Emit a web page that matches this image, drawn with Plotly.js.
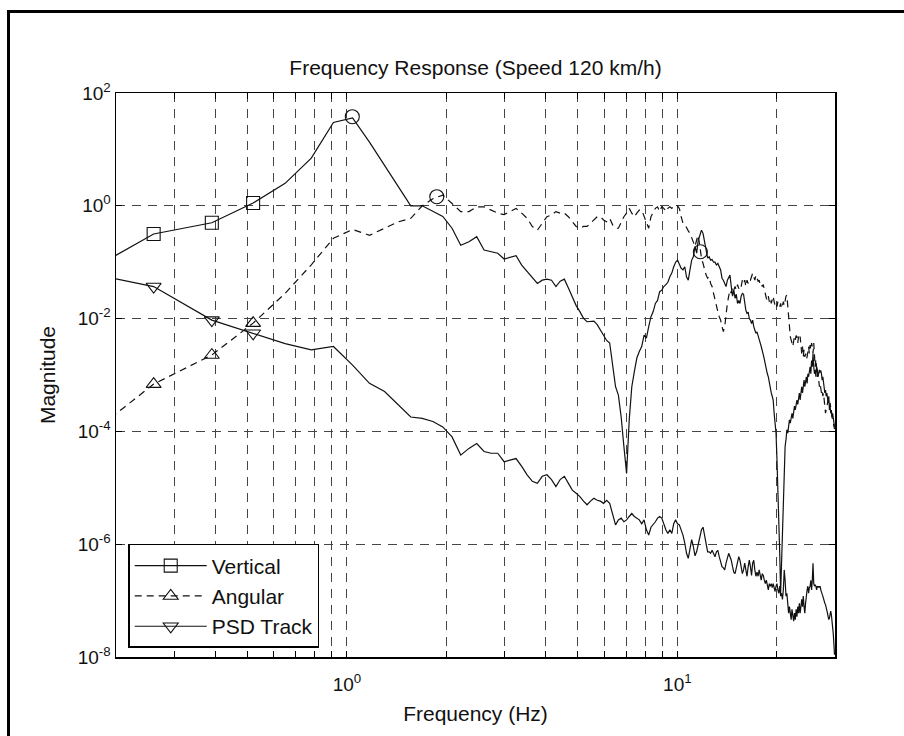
<!DOCTYPE html>
<html>
<head>
<meta charset="utf-8">
<script src="https://cdn.plot.ly/plotly-3.0.1.min.js"></script>
<style>
  html, body { margin: 0; padding: 0; background: #fff; overflow: hidden; }
  #chart { width: 904px; height: 736px; }
  #frame {
    position: absolute; left: 7px; top: 10px; width: 1000px; height: 1000px;
    border-left: 3px solid #000; border-top: 3px solid #000;
    pointer-events: none; z-index: 5;
  }
</style>
</head>
<body>
<div id="frame"></div>
<div id="chart"></div>
<script>
// Frequency grid (Hz)
const freq = [
  0.13,0.26,0.39,0.52,0.65,0.78,0.91,1.04,1.17,1.30,
  1.43,1.56,1.69,1.82,1.95,2.08,2.21,2.34,2.47,2.60,
  2.73,2.86,2.99,3.12,3.25,3.38,3.51,3.64,3.77,3.90,
  4.03,4.16,4.29,4.42,4.55,4.68,4.81,4.94,5.07,5.20,
  5.33,5.46,5.59,5.72,5.85,5.98,6.11,6.24,6.37,6.50,
  6.63,6.76,6.89,7.02,7.15,7.28,7.41,7.54,7.67,7.80,
  7.93,8.06,8.19,8.32,8.45,8.58,8.71,8.84,8.97,9.10,
  9.23,9.36,9.49,9.62,9.75,9.88,10.01,10.14,10.27,10.40,
  10.53,10.66,10.79,10.92,11.05,11.18,11.31,11.44,11.57,11.70,
  11.83,11.96,12.09,12.22,12.35,12.48,12.61,12.74,12.87,13.00,
  13.13,13.26,13.39,13.52,13.65,13.78,13.91,14.04,14.17,14.30,
  14.43,14.56,14.69,14.82,14.95,15.08,15.21,15.34,15.47,15.60,
  15.73,15.86,15.99,16.12,16.25,16.38,16.51,16.64,16.77,16.90,
  17.03,17.16,17.29,17.42,17.55,17.68,17.81,17.94,18.07,18.20,
  18.33,18.46,18.59,18.72,18.85,18.98,19.11,19.24,19.37,19.50,
  19.63,19.76,19.89,20.02,20.15,20.28,20.41,20.54,20.67,20.80,
  20.93,21.06,21.19,21.32,21.45,21.58,21.71,21.84,21.97,22.10,
  22.23,22.36,22.49,22.62,22.75,22.88,23.01,23.14,23.27,23.40,
  23.53,23.66,23.79,23.92,24.05,24.18,24.31,24.44,24.57,24.70,
  24.83,24.96,25.09,25.22,25.35,25.48,25.61,25.74,25.87,26.00,
  26.13,26.26,26.39,26.52,26.65,26.78,26.91,27.04,27.17,27.30,
  27.43,27.56,27.69,27.82,27.95,28.08,28.21,28.34,28.47,28.60,
  28.73,28.86,28.99,29.12,29.25,29.38,29.51,29.64,29.77,29.90
];

// Vertical response magnitude
const vertical = [
  0.032,0.316,0.50,1.12,2.5,7.0,30,36,13.5,5.3,
  2.18,1.0,1.0,0.81,0.65,0.40,0.20,0.23,0.283,0.164,
  0.152,0.144,0.114,0.12,0.13,0.089,0.068,0.052,0.042,0.048,
  0.05,0.048,0.037,0.046,0.050,0.035,0.025,0.017,0.0133,0.0101,
  0.0088,0.009,0.009,0.0078,0.0063,0.0051,0.0041,0.0037,0.0014,6.2e-4,
  4.4e-4,1.8e-4,5.4e-5,1.8e-5,1.6e-4,6.2e-4,1.15e-3,2.0e-3,2.6e-3,3.2e-3,
  0.0051,0.0045,0.0072,0.0108,0.0133,0.0186,0.021,0.030,0.032,0.037,
  0.040,0.044,0.055,0.064,0.083,0.10,0.109,0.095,0.078,0.073,
  0.083,0.055,0.048,0.073,0.109,0.125,0.19,0.145,0.25,0.30,
  0.37,0.325,0.216,0.145,0.118,0.125,0.109,0.112,0.10,0.10,
  0.089,0.095,0.082,0.073,0.052,0.048,0.042,0.037,0.048,0.055,
  0.059,0.037,0.025,0.032,0.023,0.027,0.0186,0.021,0.0186,0.025,
  0.028,0.027,0.017,0.014,0.0124,0.013,0.010,0.0094,0.0082,0.0094,
  0.0072,0.0063,0.0055,0.0058,0.0048,0.0042,0.0037,0.0032,0.0028,0.0023,
  0.0019,0.0015,0.0013,0.00105,9.3e-4,7.1e-4,6.2e-4,4.8e-4,4.2e-4,3.6e-4,
  2.1e-4,1.2e-4,9.3e-5,3.2e-5,1.05e-5,2.7e-6,6.9e-7,1.35e-7,5.2e-7,2.7e-6,
  1.05e-5,2.7e-5,5.4e-5,7.1e-5,1.07e-4,9.3e-5,1.2e-4,1.6e-4,1.4e-4,1.8e-4,
  2.1e-4,1.7e-4,2.4e-4,2.8e-4,2.4e-4,3.2e-4,3.6e-4,3.0e-4,4.2e-4,4.8e-4,
  3.6e-4,5.4e-4,6.2e-4,4.8e-4,7.1e-4,8.1e-4,6.2e-4,8.1e-4,9.3e-4,7.1e-4,
  1.05e-3,9.3e-4,1.23e-3,1.4e-3,1.05e-3,1.8e-3,1.4e-3,2.4e-3,1.4e-3,1.05e-3,
  1.23e-3,9.3e-4,1.4e-3,1.23e-3,9.3e-4,1.05e-3,1.23e-3,1.1e-3,1.2e-3,1.05e-3,
  8.1e-4,9.3e-4,7.1e-4,6.2e-4,4.8e-4,5.4e-4,4.2e-4,4.8e-4,3.6e-4,3.2e-4,
  4.2e-4,2.4e-4,2.8e-4,2.1e-4,2.4e-4,1.8e-4,2.1e-4,1.6e-4,1.4e-4,1.2e-4
];

// Angular response magnitude
const angular = [
  2.8e-5,6.9e-4,2.26e-3,8.3e-3,0.028,0.09,0.265,0.38,0.30,0.40,
  0.52,0.60,1.0,1.33,1.55,1.1,0.79,0.79,0.96,0.96,
  0.83,0.74,0.70,0.79,0.90,0.74,0.6,0.43,0.37,0.49,
  0.64,0.69,0.79,0.74,0.74,0.64,0.52,0.43,0.40,0.43,
  0.43,0.49,0.56,0.64,0.64,0.56,0.52,0.6,0.46,0.40,
  0.40,0.52,0.64,0.74,0.90,0.74,0.64,0.74,0.84,0.84,
  0.64,0.49,0.40,0.64,0.74,0.90,0.96,0.79,0.96,0.90,
  0.79,0.90,0.96,0.90,1.0,1.03,1.0,0.90,0.64,0.49,
  0.47,0.40,0.36,0.325,0.27,0.216,0.19,0.25,0.30,0.19,
  0.118,0.095,0.073,0.059,0.052,0.055,0.042,0.037,0.028,0.021,
  0.0163,0.0133,0.0108,0.0094,0.0072,0.0059,0.0072,0.0124,0.0186,0.025,
  0.032,0.028,0.037,0.032,0.037,0.032,0.040,0.034,0.040,0.037,
  0.048,0.042,0.048,0.037,0.048,0.042,0.050,0.048,0.059,0.064,
  0.055,0.048,0.059,0.050,0.046,0.048,0.040,0.042,0.037,0.040,
  0.032,0.028,0.023,0.021,0.025,0.020,0.023,0.0186,0.021,0.025,
  0.020,0.017,0.0186,0.0163,0.020,0.017,0.0163,0.0186,0.0151,0.017,
  0.020,0.017,0.021,0.025,0.026,0.0163,0.0094,0.0055,0.0048,0.0042,
  0.0037,0.0032,0.0040,0.0048,0.0042,0.0050,0.0048,0.0037,0.0048,0.0042,
  0.0048,0.0032,0.0024,0.0032,0.0021,0.0028,0.0021,0.0024,0.0019,0.0021,
  0.0028,0.0032,0.0024,0.0034,0.0028,0.0037,0.0032,0.0024,0.0037,0.0021,
  0.0014,0.0019,0.00125,9.3e-4,1.05e-3,8.1e-4,6.2e-4,7.1e-4,5.4e-4,4.8e-4,
  5.4e-4,4.2e-4,4.8e-4,3.2e-4,2.4e-4,2.1e-4,2.4e-4,2.8e-4,3.2e-4,3.6e-4,
  3.2e-4,2.8e-4,3.2e-4,2.4e-4,2.1e-4,1.8e-4,1.6e-4,1.4e-4,1.2e-4,1.1e-4
];

// Track irregularity PSD
const psdTrack = [
  0.084,0.037,0.0094,0.0055,0.0036,0.0028,0.0032,0.0015,7.1e-4,5.1e-4,
  2.95e-4,1.8e-4,1.7e-4,1.5e-4,1.2e-4,8e-5,3.8e-5,5e-5,6.1e-5,4.4e-5,
  4.1e-5,4.1e-5,2.9e-5,3.1e-5,3.3e-5,2.4e-5,1.7e-5,1.3e-5,1.2e-5,1.6e-5,
  1.7e-5,1.4e-5,1.05e-5,1.4e-5,1.6e-5,1.2e-5,9.1e-6,8e-6,7e-6,5.8e-6,
  5e-6,5.8e-6,6.5e-6,6e-6,5.8e-6,5.3e-6,6e-6,5.3e-6,3.5e-6,2.2e-6,
  2.7e-6,2.9e-6,2.5e-6,2.7e-6,3.1e-6,3.5e-6,3.1e-6,2.9e-6,2.7e-6,2.3e-6,
  2.7e-6,1.8e-6,1.45e-6,2e-6,2.2e-6,2.5e-6,2.9e-6,3.1e-6,2.9e-6,2.2e-6,
  1.8e-6,1.55e-6,1.8e-6,1.55e-6,2.3e-6,2.7e-6,2.3e-6,2.2e-6,1.8e-6,1.45e-6,
  1.05e-6,6.9e-7,5.6e-7,9.1e-7,1.2e-6,9.1e-7,6.2e-7,7.4e-7,1.05e-6,1.35e-6,
  1.8e-6,2e-6,1.35e-6,9.1e-7,7.3e-7,7.3e-7,6.9e-7,7.8e-7,6.9e-7,6e-7,
  7.3e-7,7.8e-7,6e-7,4.6e-7,4e-7,3.8e-7,3.5e-7,4.6e-7,6e-7,6.9e-7,
  6e-7,5.2e-7,4e-7,3.2e-7,3e-7,4e-7,4.9e-7,6e-7,5.2e-7,4e-7,
  3e-7,3.5e-7,4.6e-7,3.5e-7,2.7e-7,4e-7,5.2e-7,4e-7,2.8e-7,4.6e-7,
  5.2e-7,3.5e-7,2.7e-7,3.2e-7,2.7e-7,3.5e-7,2.7e-7,2.3e-7,3e-7,2.8e-7,
  2.3e-7,2e-7,2.3e-7,1.8e-7,1.55e-7,2e-7,1.8e-7,2e-7,1.7e-7,2e-7,
  1.7e-7,1.45e-7,1.8e-7,2e-7,1.55e-7,1.35e-7,1.8e-7,1.2e-7,1.35e-7,1.05e-7,
  1.55e-7,3.5e-7,2.3e-7,1.2e-7,1.35e-7,9e-8,6e-8,7.8e-8,5.2e-8,4.6e-8,
  7e-8,4.6e-8,4.3e-8,6e-8,4.6e-8,7e-8,5.2e-8,7.8e-8,6e-8,9e-8,
  6e-8,7.8e-8,1.05e-7,7.8e-8,1.2e-7,7.8e-8,6e-8,9e-8,1.35e-7,1.55e-7,
  1.8e-7,1.35e-7,1.7e-7,1.8e-7,2.3e-7,1.55e-7,2.3e-7,4.6e-7,2e-7,1.8e-7,
  1.9e-7,1.8e-7,1.55e-7,1.8e-7,1.7e-7,1.8e-7,1.7e-7,1.8e-7,1.55e-7,1.35e-7,
  1.3e-7,1.2e-7,1.05e-7,1e-7,9e-8,8.5e-8,7.8e-8,7e-8,6e-8,5.2e-8,
  4.6e-8,4.9e-8,6e-8,6.5e-8,5.6e-8,4.6e-8,3.4e-8,2.6e-8,1.7e-8,1.1e-8
];

// Resonance peaks marked with circles
const peakFreq = [1.038, 1.87, 11.74];
const peakMag  = [38, 1.45, 0.153];

// Grid samples that carry a legend marker
const markedIdx = [1, 2, 3];

// Axis ticks: labelled decades plus unlabelled in-between grid positions
const xTickVals = [1, 10];
const xTickText = ['10<sup>0</sup>', '10<sup>1</sup>'];
const xMinorVals = [0.3,0.4,0.5,0.6,0.7,0.8,0.9,2,3,4,5,6,7,8,9,20];
const yTickVals = [1e-8,1e-6,1e-4,1e-2,1,1e2];
const yTickText = ['10<sup>-8</sup>','10<sup>-6</sup>','10<sup>-4</sup>','10<sup>-2</sup>','10<sup>0</sup>','10<sup>2</sup>'];

const ink = '#111';
const gridInk = '#454545';
const fontFam = '"Liberation Sans", Arial, Helvetica, sans-serif';

function series(name, y, symbol, dash) {
  return {
    type: 'scatter',
    mode: 'lines+markers',
    name: name,
    x: freq,
    y: y,
    line: { color: ink, width: 1.2, dash: dash },
    marker: { symbol: symbol, size: 13, color: ink, line: { color: ink, width: 1.1 } },
    selectedpoints: markedIdx,
    selected: { marker: { opacity: 1 } },
    unselected: { marker: { opacity: 0 } },
    hoverinfo: 'skip'
  };
}

const traces = [
  series('Vertical', vertical, 'square-open', 'solid'),
  series('Angular', angular, 'triangle-up-open', '7px,5px'),
  series('PSD Track', psdTrack, 'triangle-down-open', 'solid'),
  {
    type: 'scatter',
    mode: 'markers',
    x: peakFreq,
    y: peakMag,
    showlegend: false,
    marker: { symbol: 'circle-open', size: 14, color: ink, line: { color: ink, width: 1.1 } },
    hoverinfo: 'skip'
  }
];

const axisCommon = {
  type: 'log',
  showline: true,
  linecolor: '#000',
  linewidth: 1.5,
  mirror: 'ticks',
  ticks: 'inside',
  ticklen: 6,
  tickcolor: '#000',
  tickmode: 'array',
  showgrid: true,
  gridcolor: gridInk,
  gridwidth: 1,
  griddash: '9px,7px',
  zeroline: false,
  tickfont: { family: fontFam, size: 19, color: '#111' }
};

const layout = {
  width: 904,
  height: 736,
  margin: { l: 116, r: 69, t: 93, b: 79 },
  paper_bgcolor: '#fff',
  plot_bgcolor: '#fff',
  font: { family: fontFam, color: '#111' },
  title: {
    text: 'Frequency Response (Speed 120 km/h)',
    font: { family: fontFam, size: 21, color: '#111' },
    x: 0.5, xref: 'paper', xanchor: 'center',
    y: 1 - 68 / 736, yref: 'container', yanchor: 'middle'
  },
  xaxis: Object.assign({}, axisCommon, {
    range: [Math.log10(0.2), Math.log10(30)],
    tickvals: xTickVals,
    ticktext: xTickText,
    ticklabelstandoff: 10,
    minor: {
      tickmode: 'array',
      tickvals: xMinorVals,
      ticks: 'inside',
      ticklen: 6,
      tickcolor: '#000',
      showgrid: true,
      gridcolor: gridInk,
      gridwidth: 1,
      griddash: '9px,7px'
    },
    title: { text: 'Frequency (Hz)', font: { family: fontFam, size: 21, color: '#111' }, standoff: 12 }
  }),
  yaxis: Object.assign({}, axisCommon, {
    range: [-8, 2],
    tickvals: yTickVals,
    ticktext: yTickText,
    title: { text: 'Magnitude', font: { family: fontFam, size: 21, color: '#111' }, standoff: 16 }
  }),
  legend: {
    x: 0.017, y: 0.016, xanchor: 'left', yanchor: 'bottom',
    bgcolor: '#fff',
    bordercolor: '#000',
    borderwidth: 1.5,
    font: { family: fontFam, size: 21, color: '#111' },
    itemwidth: 72
  },
  showlegend: true,
  hovermode: false
};

Plotly.newPlot('chart', traces, layout, { staticPlot: true, displayModeBar: false });
</script>
</body>
</html>
